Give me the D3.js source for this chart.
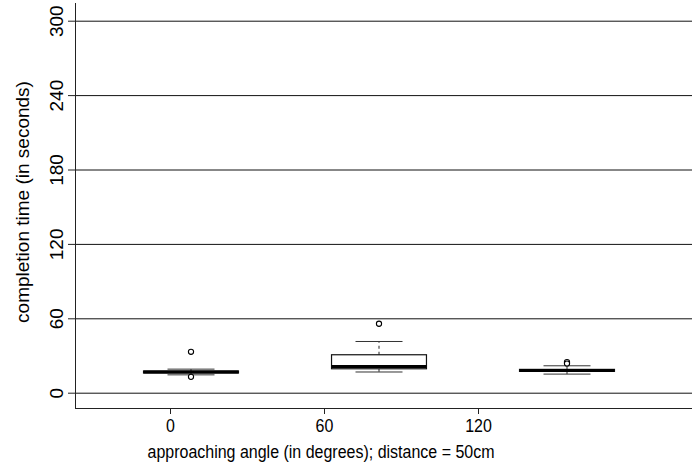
<!DOCTYPE html>
<html>
<head>
<meta charset="utf-8">
<script src="https://cdn.jsdelivr.net/npm/d3@7"></script>
<style>
  body { margin: 0; background: #fff; }
  text { font-family: "Liberation Sans", Arial, Helvetica, sans-serif; }
</style>
</head>
<body>
<div class="chart"></div>
<script>
// completion time (s) per approaching angle
const groups   = ["0", "60", "120"];
const lowWhisk = [14.4, 16.7, 15.0];
const q1       = [15.9, 19.3, 17.2];
const medians  = [16.6, 21.2, 18.0];
const q3       = [17.5, 30.6, 18.8];
const highWhisk= [19.0, 41.3, 21.7];
const outliers = [[33.0, 12.8], [55.6], [24.7, 23.5]];
const yTicks   = [0, 60, 120, 180, 240, 300];
const xTicks   = [0, 60, 120];

const boxes = groups.map((g, i) => ({
    group: g, lo: lowWhisk[i], q1: q1[i], med: medians[i],
    q3: q3[i], hi: highWhisk[i], out: outliers[i]
}));

var width = 692, height = 475;
const plotLeft = 75, plotBottom = 408, plotTop = 3;

const svg = d3.select(".chart").append("svg")
    .attr("width", width)
    .attr("height", height)

const yScale = d3.scaleLinear()
    .domain([0, 300])
    .range([392.7, 20.7]);

// axis ticks for the angle
const xScale = d3.scaleLinear()
    .domain([0, 60])
    .range([170, 324]);

// boxes sit on their own band positions
const boxScale = d3.scaleBand()
    .domain(groups)
    .range([97, 661])
    .padding(0);

const boxW = boxScale.bandwidth() * 0.505;
const capW = boxScale.bandwidth() * 0.125;

// y axis with grid lines
svg.append("g")
    .attr("class", "axis y-axis")
    .attr("transform", `translate(${plotLeft},0)`)
    .call(d3.axisLeft(yScale).tickValues(yTicks).tickSize(7).tickFormat(d3.format("d")))
    .call(g => g.select(".domain").remove())
    .call(g => g.selectAll(".tick line")
        .attr("stroke", "#222"))
    .call(g => g.selectAll(".tick line")
        .clone()
        .attr("x1", 0)
        .attr("x2", width - plotLeft)
        .attr("stroke", "#111"))
    .call(g => g.selectAll(".tick text")
        .attr("x", null)
        .attr("dy", null)
        .attr("y", null)
        .attr("transform", "translate(-12,0) rotate(-90)")
        .attr("text-anchor", "middle")
        .attr("fill", "#000")
        .style("font-size", "19px"));

// x axis
svg.append("g")
    .attr("class", "axis x-axis")
    .attr("transform", `translate(0,${plotBottom})`)
    .call(d3.axisBottom(xScale).tickValues(xTicks).tickSize(6).tickFormat(d3.format("d")))
    .call(g => g.select(".domain").remove())
    .call(g => g.selectAll(".tick line").attr("stroke", "#222"))
    .call(g => g.selectAll(".tick text")
        .attr("y", 10.5)
        .attr("transform", "scale(1,1.12)")
        .attr("fill", "#000")
        .style("font-size", "16px"));

// frame lines
svg.append("line")
    .attr("x1", plotLeft + 0.5).attr("x2", plotLeft + 0.5)
    .attr("y1", plotTop).attr("y2", plotBottom)
    .attr("stroke", "#222");
svg.append("line")
    .attr("x1", plotLeft).attr("x2", width)
    .attr("y1", plotBottom + 0.5).attr("y2", plotBottom + 0.5)
    .attr("stroke", "#222");

const bx = svg.append("g").selectAll("g")
    .data(boxes)
    .enter()
    .append("g")
    .attr("transform", d => `translate(${boxScale(d.group) + boxScale.bandwidth() / 2},0)`);

// whiskers
bx.append("line")
    .attr("x1", 0).attr("x2", 0)
    .attr("y1", d => yScale(d.q3)).attr("y2", d => yScale(d.hi))
    .attr("stroke", "#222")
    .attr("stroke-dasharray", "3,3");
bx.append("line")
    .attr("x1", 0).attr("x2", 0)
    .attr("y1", d => yScale(d.q1)).attr("y2", d => yScale(d.lo))
    .attr("stroke", "#222")
    .attr("stroke-dasharray", "3,3");

// caps
bx.append("line")
    .attr("x1", -capW).attr("x2", capW)
    .attr("y1", d => yScale(d.hi)).attr("y2", d => yScale(d.hi))
    .attr("stroke", "#333");
bx.append("line")
    .attr("x1", -capW).attr("x2", capW)
    .attr("y1", d => yScale(d.lo)).attr("y2", d => yScale(d.lo))
    .attr("stroke", "#333");

// box
bx.append("rect")
    .attr("x", -boxW / 2)
    .attr("width", boxW)
    .attr("y", d => yScale(d.q3))
    .attr("height", d => yScale(d.q1) - yScale(d.q3))
    .attr("fill", "#fff")
    .attr("stroke", "#111")
    .attr("stroke-width", 1.2);

// median
bx.append("line")
    .attr("x1", -boxW / 2).attr("x2", boxW / 2)
    .attr("y1", d => yScale(d.med)).attr("y2", d => yScale(d.med))
    .attr("stroke", "#000")
    .attr("stroke-width", 3);

// outliers
bx.selectAll("circle")
    .data(d => d.out)
    .enter()
    .append("circle")
    .attr("cx", 0)
    .attr("cy", d => yScale(d))
    .attr("r", 2.6)
    .attr("fill", "#fff")
    .attr("stroke", "#000")
    .attr("stroke-width", 1.1);

// titles
svg.append("text")
    .attr("transform", "translate(29,202) rotate(-90)")
    .attr("text-anchor", "middle")
    .style("font-size", "19px")
    .text("completion time (in seconds)")

svg.append("text")
    .attr("transform", "translate(321,458) scale(1,1.12)")
    .attr("text-anchor", "middle")
    .style("font-size", "16px")
    .text("approaching angle (in degrees); distance = 50cm")
</script>
</body>
</html>
